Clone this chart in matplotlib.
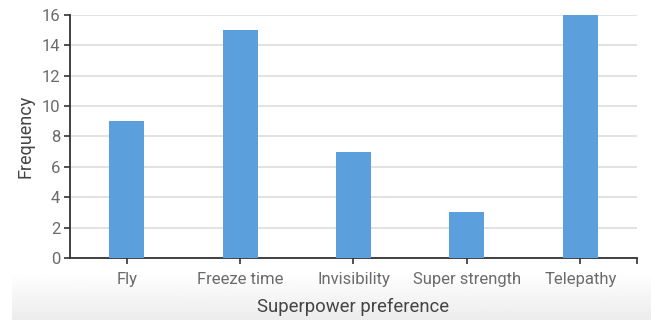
import numpy as np
import matplotlib.pyplot as plt

powers = ['Fly', 'Freeze time', 'Invisibility', 'Super strength', 'Telepathy']
counts = [9, 15, 7, 3, 16]
y_ticks = [0, 2, 4, 6, 8, 10, 12, 14, 16]

plt.rcParams['font.family'] = ['Roboto', 'DejaVu Sans']

fig = plt.figure(figsize=(6.51, 3.20), dpi=100)

# light grey band along the bottom
bg = fig.add_axes([0.018, 0.0, 0.982, 0.15], zorder=-5)
grad = np.linspace(1.0, 0.925, 64).reshape(-1, 1)
bg.imshow(grad, cmap='gray', vmin=0, vmax=1, aspect='auto', extent=[0, 1, 0, 1])
bg.axis('off')

ax = fig.add_axes([0.1075, 0.194, 0.871, 0.759])
ax.patch.set_alpha(0)
x = np.arange(len(powers))
ax.bar(x, counts, width=0.31, color='#5b9fdc', zorder=3)

ax.set_xlim(-0.5, len(powers) - 0.5)
ax.set_ylim(0, 16)
ax.set_yticks(y_ticks)
ax.set_xticks(x)
ax.set_xticklabels(powers)
ax.set_xticks([len(powers) - 0.5], minor=True)
ax.grid(axis='y', color='#dddddd', linewidth=1.2, zorder=0)

for side in ['top', 'right']:
    ax.spines[side].set_visible(False)
for side in ['left', 'bottom']:
    ax.spines[side].set_color('#333333')
    ax.spines[side].set_linewidth(1.3)

ax.tick_params(axis='both', which='both', colors='#333333', labelcolor='#6b6b6b',
               labelsize=12, length=4, width=1.2)
ax.tick_params(axis='x', pad=6)
ax.tick_params(axis='y', pad=3)

ax.set_xlabel('Superpower preference', fontsize=13.3, color='#444444', labelpad=8)
ax.set_ylabel('Frequency', fontsize=13, color='#444444', labelpad=5)

fig.savefig('out.png', dpi=100)
